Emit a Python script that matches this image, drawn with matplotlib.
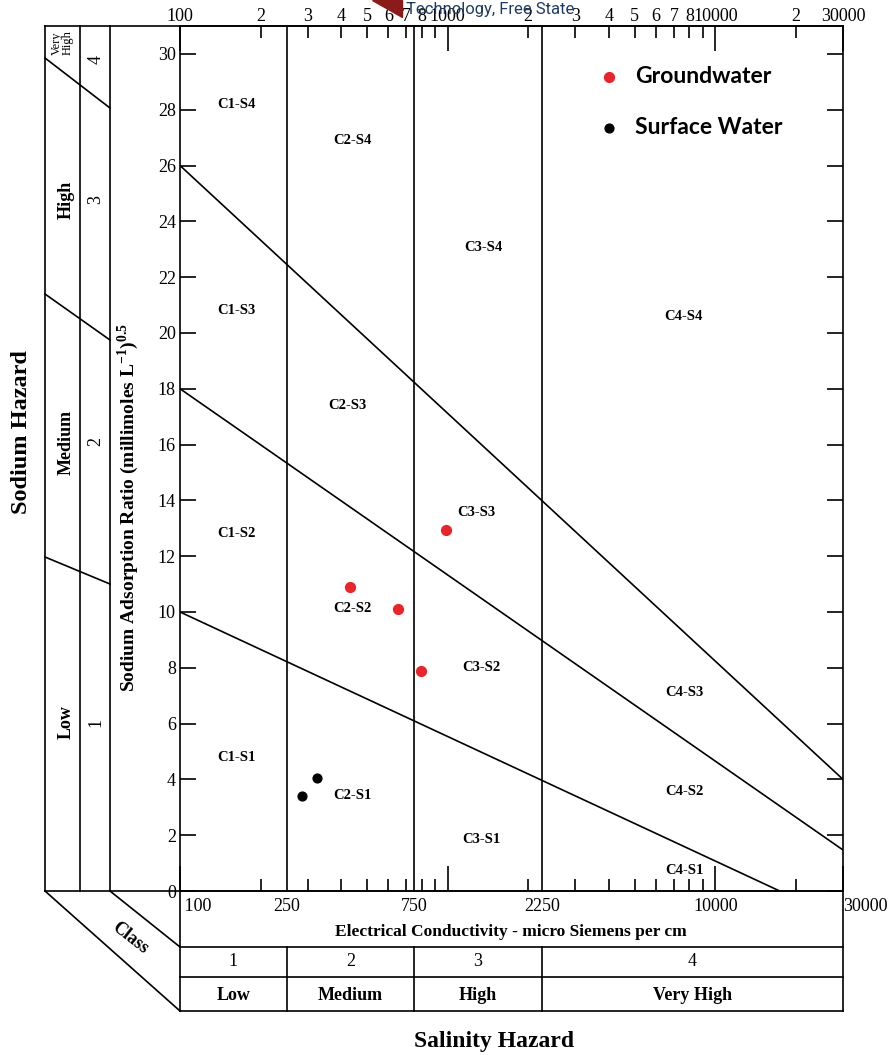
import numpy as np
import matplotlib.pyplot as plt
import matplotlib.transforms as mtransforms
from matplotlib.ticker import FixedLocator, FixedFormatter

plt.rcParams['font.family'] = 'Liberation Serif'
plt.rcParams['mathtext.fontset'] = 'custom'
plt.rcParams['mathtext.rm'] = 'Liberation Serif:bold'
plt.rcParams['mathtext.bf'] = 'Liberation Serif:bold'

# ================== data ==================
gw_ec = [432, 652, 795, 986]
gw_sar = [10.9, 10.1, 7.9, 12.95]
sw_ec = [325, 286]
sw_sar = [4.05, 3.4]

# salinity class edges (EC, uS/cm)
ec_edges = [100, 250, 750, 2250, 30000]
# sodium hazard boundaries S1/S2, S2/S3, S3/S4
s_line_ec = [[100, 17400], [100, 30000], [100, 30000]]
s_line_sar = [[10, 0], [18, 1.47], [26, 4.0]]

zone_names = ['C1-S4', 'C2-S4', 'C3-S4', 'C4-S4', 'C1-S3', 'C2-S3', 'C1-S2', 'C3-S3',
              'C2-S2', 'C3-S2', 'C4-S3', 'C1-S1', 'C2-S1', 'C4-S2', 'C3-S1', 'C4-S1']
zone_ec = [163, 442, 1355, 7570, 163, 421, 163, 1285,
           439, 1342, 7640, 163, 439, 7640, 1342, 7640]
zone_sar = [28.2, 26.9, 23.05, 20.6, 20.8, 17.4, 12.8, 13.55,
            10.14, 8.0, 7.13, 4.77, 3.44, 3.58, 1.83, 0.72]

top_major = [100, 1000, 10000, 30000]
top_major_lab = ['100', '1000', '10000', '30000']
top_minor = [200, 300, 400, 500, 600, 700, 800, 900,
             2000, 3000, 4000, 5000, 6000, 7000, 8000, 9000, 20000]
top_minor_lab = ['2', '3', '4', '5', '6', '7', '8', '',
                 '2', '3', '4', '5', '6', '7', '8', '', '2']

bottom_lab_ec = [250, 750, 2250, 10000]
sar_ticks = list(range(0, 31, 2))

salinity_class = ['1', '2', '3', '4']
salinity_name = ['Low', 'Medium', 'High', 'Very High']

# ================== figure ==================
W, H = 892, 1055
fig = plt.figure(figsize=(W / 100, H / 100), dpi=100)

X0, X1, Y0, Y1 = 180, 843, 891, 26
ax = fig.add_axes([X0 / W, (H - Y0) / H, (X1 - X0) / W, (Y0 - Y1) / H])
ax.set_facecolor('none')
ax.set_xscale('log')
ax.set_xlim(100, 30000)
ax.set_ylim(0, 31)

lw = 1.2
for s in ax.spines.values():
    s.set_linewidth(lw)

ax.xaxis.set_major_locator(FixedLocator(top_major))
ax.xaxis.set_major_formatter(FixedFormatter(top_major_lab))
ax.xaxis.set_minor_locator(FixedLocator(top_minor))
ax.xaxis.set_minor_formatter(FixedFormatter(top_minor_lab))
ax.tick_params(axis='x', which='both', direction='in', top=True, bottom=True,
               labeltop=True, labelbottom=False, labelsize=13, pad=1, width=lw)
ax.tick_params(axis='x', which='major', length=18)
ax.tick_params(axis='x', which='minor', length=8.5)

ax.set_yticks(sar_ticks)
ax.tick_params(axis='y', direction='in', left=True, right=True, labelsize=13,
               length=11.5, width=lw, pad=3)

# class boundaries
for e in ec_edges[1:-1]:
    ax.axvline(e, color='black', lw=lw)
for xs, ys in zip(s_line_ec, s_line_sar):
    ax.plot(xs, ys, color='black', lw=lw)

for name, xe, ys in zip(zone_names, zone_ec, zone_sar):
    ax.text(xe, ys, name, ha='center', va='center', fontsize=10.5, fontweight='bold')

ax.scatter(gw_ec, gw_sar, s=50, color='#e8262a', zorder=5, label='Groundwater')
ax.scatter(sw_ec, sw_sar, s=40, color='black', zorder=5, label='Surface Water')
leg = ax.legend(loc='upper left', bbox_to_anchor=(0.616, 0.964), frameon=False,
                handlelength=1.0, handletextpad=0.65, labelspacing=1.3, borderaxespad=0,
                prop={'family': 'Lato', 'weight': 'bold', 'size': 16.5})

# ================== surrounding frame ==================
ov = fig.add_axes([0, 0, 1, 1])
ov.set_autoscale_on(False)
ov.set_xlim(0, W)
ov.set_ylim(H, 0)
ov.axis('off')
trans = mtransforms.blended_transform_factory(ax.transData, ov.transData)

def seg(x, y):
    ov.plot(x, y, color='black', lw=lw, clip_on=False, solid_capstyle='projecting')

# sodium hazard panel
seg([45, X1], [Y1, Y1])
seg([45, X1], [Y0, Y0])
for xv in [45, 80, 110]:
    seg([xv, xv], [Y1, Y0])
seg([45, 110], [58, 108])
seg([45, 110], [294, 340])
seg([45, 110], [557, 584])

ov.text(62, 43, 'Very\nHigh', rotation=90, ha='center', va='center', fontsize=9,
        linespacing=0.9)
panel_y = [60, 200, 442, 722]
for yy, num, nm in zip(panel_y, ['4', '3', '2', '1'], [None, 'High', 'Medium', 'Low']):
    ov.text(96, yy, num, rotation=90, ha='center', va='center', fontsize=13)
    if nm:
        ov.text(66, yy, nm, rotation=90, ha='center', va='center', fontsize=13,
                fontweight='bold')
ov.text(22, 432, 'Sodium Hazard', rotation=90, ha='center', va='center', fontsize=17.5,
        fontweight='bold')
ov.text(128, 508, r'Sodium Adsorption Ratio (millimoles L$^{-1}$)$^{0.5}$', rotation=90,
        ha='center', va='center', fontsize=14, fontweight='bold')

# perspective + salinity table
seg([45, X0], [Y0, 1011])
seg([110, X0], [Y0, 947])
ov.text(130, 938, 'Class', rotation=-38, ha='center', va='center', fontsize=13,
        fontweight='bold')
seg([X0, X0], [Y0, 1011])
seg([X1, X1], [Y0, 1011])
for yy in [947, 977, 1011]:
    seg([X0, X1], [yy, yy])
for e in ec_edges[1:-1]:
    ov.plot([e, e], [947, 1011], color='black', lw=lw, transform=trans, clip_on=False)
for i in range(4):
    xc = np.sqrt(ec_edges[i] * ec_edges[i + 1])
    ov.text(xc, 962, salinity_class[i], transform=trans, ha='center', va='center', fontsize=13)
    ov.text(xc, 995, salinity_name[i], transform=trans, ha='center', va='center', fontsize=13,
            fontweight='bold')

ov.text(ec_edges[0], 898, ' 100', transform=trans, ha='left', va='top', fontsize=13)
for e in bottom_lab_ec:
    ov.text(e, 898, str(e), transform=trans, ha='center', va='top', fontsize=13)
ov.text(ec_edges[-1], 898, '30000', transform=trans, ha='left', va='top', fontsize=13)
ov.text(511, 932, 'Electrical Conductivity - micro Siemens per cm', ha='center', va='center',
        fontsize=12.5, fontweight='bold')
ov.text(494, 1042, 'Salinity Hazard', ha='center', va='center', fontsize=17, fontweight='bold')

# cropped page header
ov.fill([372, 402, 402], [0, 0, 17], color='#8b1a1a', clip_on=False)
ov.text(406, 17, 'Technology, Free State', ha='left', va='bottom', fontsize=12,
        family='Roboto', color='#1f3b63')

fig.savefig('out.png', dpi=100)
